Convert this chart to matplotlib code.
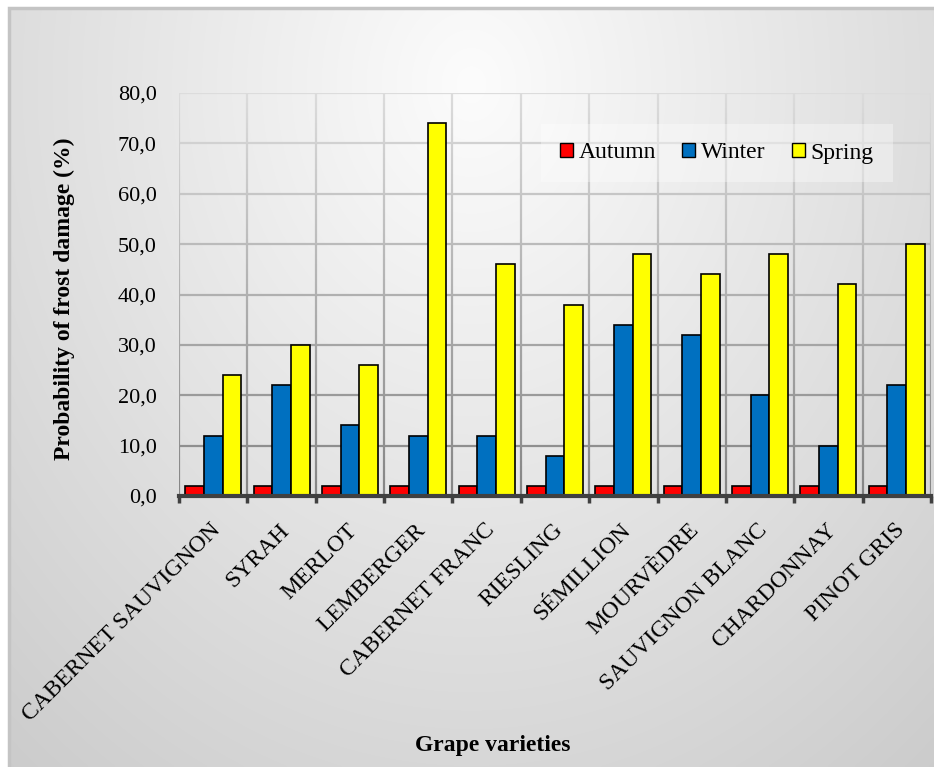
import numpy as np
import matplotlib
matplotlib.use("Agg")
import matplotlib.pyplot as plt
from matplotlib.collections import LineCollection
from matplotlib.patches import Rectangle
import matplotlib.transforms as mtransforms

varieties = ["CABERNET SAUVIGNON", "SYRAH", "MERLOT", "LEMBERGER",
             "CABERNET FRANC", "RIESLING", "SÉMILLION", "MOURVÈDRE",
             "SAUVIGNON BLANC", "CHARDONNAY", "PINOT GRIS"]
autumn = [2, 2, 2, 2, 2, 2, 2, 2, 2, 2, 2]
winter = [12, 22, 14, 12, 12, 8, 34, 32, 20, 10, 22]
spring = [24, 30, 26, 74, 46, 38, 48, 44, 48, 42, 50]
yticks = [0, 10, 20, 30, 40, 50, 60, 70, 80]

plt.rcParams["font.family"] = ["Liberation Serif", "DejaVu Serif"]

W, H = 934, 767
fig = plt.figure(figsize=(W / 100, H / 100), dpi=100, facecolor="white")

# soft radial background, light at top centre
bg = fig.add_axes([9 / W, 0, 1 - 9 / W, 1 - 8 / H], zorder=-5)
gx, gy = np.meshgrid(np.linspace(0, 1, 400), np.linspace(0, 1, 330))
d = np.sqrt(((gx - 0.5) / 0.6) ** 2 + ((gy - 0.1) / 0.9) ** 2)
shade = np.clip(252 - 37 * d, 195, 252) / 255.0
bg.imshow(np.dstack([shade, shade, shade]), aspect="auto",
          extent=[0, 1, 1, 0], interpolation="bilinear")
bg.set_xlim(0, 1)
bg.set_ylim(1, 0)
bg.axis("off")
# frame runs off the right and bottom edges
fig.patches.append(Rectangle((9 / W, -0.05), 1.2, 1 - 8 / H + 0.05,
                             transform=fig.transFigure, fill=False,
                             edgecolor="#c4c4c4", linewidth=2.5))

ax = fig.add_axes([179 / W, 1 - 496 / H, (931 - 179) / W, (496 - 93) / H])
ax.set_facecolor("none")

n = len(varieties)
x = np.arange(n)
bw = 0.273
ax.bar(x - bw, autumn, bw, color="#ff0000", edgecolor="black", linewidth=1.2,
       label="Autumn", zorder=3)
ax.bar(x, winter, bw, color="#0070c0", edgecolor="black", linewidth=1.2,
       label="Winter", zorder=3)
ax.bar(x + bw, spring, bw, color="#ffff00", edgecolor="black", linewidth=1.2,
       label="Spring", zorder=3)

ax.set_xlim(-0.5, n - 0.5)
ax.set_ylim(0, 80)


def grid_grey(v):
    g = (220 - (80 - v) / 80 * 88) / 255.0
    return (g, g, g)


# horizontal grid, darker towards the bottom
for v in yticks[1:]:
    ax.axhline(v, color=grid_grey(v), linewidth=1.6, zorder=1)

# vertical separators between varieties with the same fade
ys = np.linspace(0, 80, 81)
segs, cols = [], []
for b in np.arange(-0.5, n, 1.0):
    for y0, y1 in zip(ys[:-1], ys[1:]):
        segs.append([(b, y0), (b, y1)])
        cols.append(grid_grey((y0 + y1) / 2))
ax.add_collection(LineCollection(segs, colors=cols, linewidths=1.6, zorder=1))

for s in ["top", "right", "left"]:
    ax.spines[s].set_visible(False)
ax.spines["bottom"].set_color("#404040")
ax.spines["bottom"].set_linewidth(3)
ax.spines["bottom"].set_zorder(4)

ax.set_yticks(yticks)
ax.set_yticklabels([f"{v},0" for v in yticks], fontsize=16)
ax.tick_params(axis="y", length=0, pad=16)

ax.set_xticks(x)
ax.set_xticks(np.arange(-0.5, n, 1.0), minor=True)
ax.tick_params(axis="x", which="major", length=0, pad=17)
ax.tick_params(axis="x", which="minor", length=5, width=2.5,
               color="#404040", direction="out")
ax.set_xticklabels(varieties, fontsize=17, rotation=45, ha="right",
                   va="top", rotation_mode="anchor")
shift = mtransforms.ScaledTranslation(-3 / 100, 0, fig.dpi_scale_trans)
for lbl in ax.get_xticklabels():
    lbl.set_transform(lbl.get_transform() + shift)

fig.text(64 / W, 1 - 299 / H, "Probability of frost damage (%)",
         rotation=90, fontsize=17, fontweight="bold", ha="center", va="center")
fig.text(493 / W, 1 - 745 / H, "Grape varieties", fontsize=17,
         fontweight="bold", ha="center", va="center")

leg = ax.legend(loc="center", bbox_to_anchor=(717 / W, 1 - 153 / H),
                bbox_transform=fig.transFigure, ncol=3, fontsize=17,
                handlelength=0.55, handleheight=0.55, handletextpad=0.25,
                columnspacing=1.1, borderpad=0.8, fancybox=False,
                framealpha=0.35, facecolor="white", edgecolor="none")
for h in leg.legend_handles:
    h.set_linewidth(1.0)

fig.savefig("out.png", dpi=100)
